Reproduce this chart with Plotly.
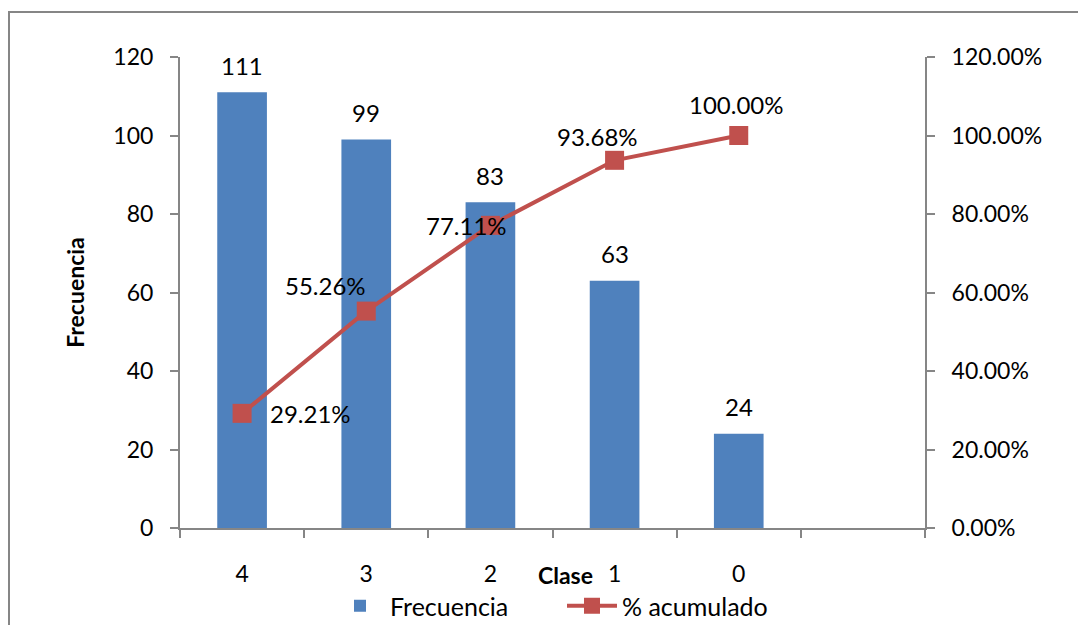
import plotly.graph_objects as go

# Pareto data
clases = ["4", "3", "2", "1", "0"]
frecuencia = [111, 99, 83, 63, 24]
acumulado = [0.2921, 0.5526, 0.7711, 0.9368, 1.0]

# label offsets (px) for the cumulative-percent labels
pct_shift = [(26, 0, "left"), (-41, 26, "center"), (-24, 0, "center"),
             (-17, 24, "center"), (-2, 31, "center")]

BLUE = "#4F81BD"
RED = "#C0504D"
GRAY = "#868686"
FONT = "Lato"

all_cats = clases + [" "]

fig = go.Figure()
fig.add_trace(go.Bar(
    x=clases, y=frecuencia, name="Frecuencia",
    marker=dict(color=BLUE, line=dict(width=0)),
    width=0.4,
))
fig.add_trace(go.Scatter(
    x=clases, y=acumulado, name="% acumulado", yaxis="y2",
    mode="lines+markers",
    line=dict(color=RED, width=4),
    marker=dict(symbol="square", size=19, color=RED, line=dict(color=RED, width=0)),
))

annotations = []
for i, v in enumerate(frecuencia):
    annotations.append(dict(x=i, y=v, xref="x", yref="y", text=str(v),
                            showarrow=False, yshift=27,
                            font=dict(family=FONT, size=24, color="black")))
for i, (v, (dx, dy, anc)) in enumerate(zip(acumulado, pct_shift)):
    annotations.append(dict(x=i, y=v, xref="x", yref="y2", text=f"{v*100:.2f}%",
                            showarrow=False, xshift=dx, yshift=dy, xanchor=anc,
                            font=dict(family=FONT, size=24, color="black")))
# category axis title
annotations.append(dict(x=(565 - 180) / 745, y=(528 - 575) / 471, xref="paper", yref="paper",
                        yanchor="middle", text="<b>Clase</b>", showarrow=False,
                        font=dict(family=FONT, size=23, color="black")))

fig.update_layout(
    width=1078, height=625,
    margin=dict(l=180, r=153, t=57, b=97, autoexpand=False),
    paper_bgcolor="white", plot_bgcolor="white",
    font=dict(family=FONT, size=23, color="black"),
    bargap=0.6,
    showlegend=True,
    legend=dict(orientation="h", xref="container", x=330 / 1078, xanchor="left",
                yref="container", y=1 - 606 / 625, yanchor="middle",
                font=dict(family=FONT, size=25), itemwidth=50,
                entrywidth=167, entrywidthmode="pixels", bgcolor="rgba(0,0,0,0)"),
    xaxis=dict(type="category", categoryorder="array", categoryarray=all_cats,
               range=[-0.5, 5.5], tickson="boundaries", ticks="outside", ticklen=8,
               tickcolor=GRAY, tickwidth=2, showline=True, linecolor=GRAY, linewidth=2,
               showgrid=False, tickfont=dict(family=FONT, size=23), ticklabelstandoff=24),
    yaxis=dict(range=[0, 120], dtick=20, ticks="outside", ticklen=8, tickcolor=GRAY,
               tickwidth=2, showline=True, linecolor=GRAY, linewidth=2, showgrid=False,
               zeroline=False, tickfont=dict(family=FONT, size=23), ticklabelstandoff=12,
               title=dict(text="<b>Frecuencia</b>", font=dict(family=FONT, size=23),
                          standoff=22)),
    yaxis2=dict(range=[0, 1.2], dtick=0.2, tickformat=".2%", overlaying="y", side="right",
                ticks="outside", ticklen=8, tickcolor=GRAY, tickwidth=2, showline=True,
                linecolor=GRAY, linewidth=2, showgrid=False, zeroline=False,
                tickfont=dict(family=FONT, size=23), ticklabelstandoff=12),
    annotations=annotations,
    shapes=[dict(type="rect", xref="paper", yref="paper",
                 x0=(9 - 180) / 745, x1=(1090 - 180) / 745,
                 y0=(528 - 640) / 471, y1=1 + (57 - 12) / 471,
                 line=dict(color=GRAY, width=2), layer="below")],
)

fig.write_html("out.html")
